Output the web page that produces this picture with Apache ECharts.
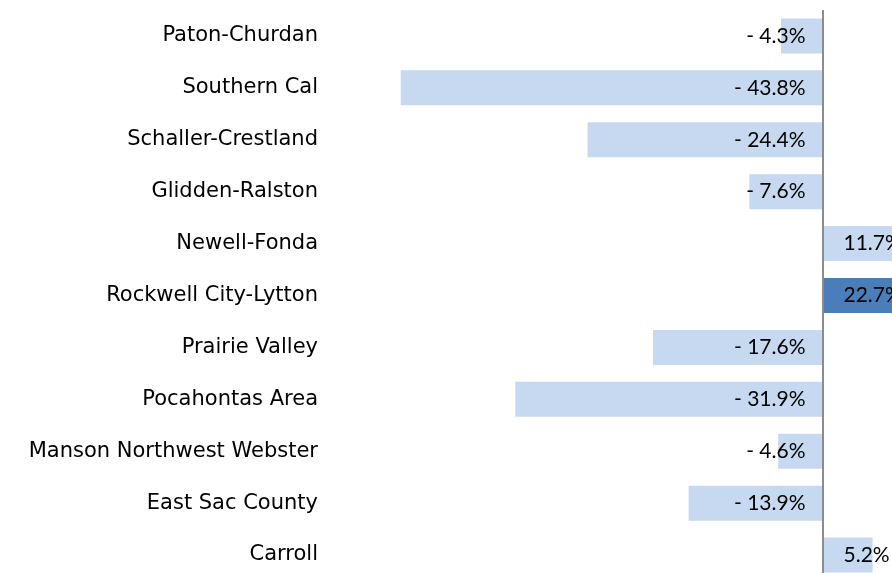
<!DOCTYPE html>
<html><head><meta charset="utf-8">
<script src="https://cdn.jsdelivr.net/npm/echarts@6/dist/echarts.min.js"></script>
<style>html,body{margin:0;padding:0;background:#fff}#c{width:892px;height:573px}</style>
</head><body><div id="c"></div>
<script>
const categories = ["Paton-Churdan","Southern Cal","Schaller-Crestland","Glidden-Ralston","Newell-Fonda","Rockwell City-Lytton","Prairie Valley","Pocahontas Area","Manson Northwest Webster","East Sac County","Carroll"];
const values = [-4.3,-43.8,-24.4,-7.6,11.7,22.7,-17.6,-31.9,-4.6,-13.9,5.2];
const highlight = "Rockwell City-Lytton";

const chart = echarts.init(document.getElementById('c'));
const data = values.map((v, i) => ({
  value: v,
  itemStyle: { color: categories[i] === highlight ? '#4A7EBB' : '#C6D9F0' },
  label: v < 0 ? { position: 'insideRight', distance: 17 } : { position: 'insideLeft', distance: 21 }
}));
chart.setOption({
  animation: false,
  grid: { left: 341, top: 10, width: 770.4, height: 571, containLabel: false, outerBoundsMode: 'none' },
  xAxis: { type: 'value', min: -50, max: 30, show: false },
  yAxis: {
    type: 'category', data: categories, inverse: true,
    axisLine: { show: false, onZero: false }, axisTick: { show: false },
    axisLabel: { color: '#000', fontSize: 21, fontFamily: 'DejaVu Sans', margin: 23 }
  },
  series: [{
    type: 'bar', data: data, barWidth: 35,
    label: {
      show: true, color: '#000', fontSize: 21, fontFamily: 'Lato',
      formatter: p => (p.value < 0 ? '- ' + Math.abs(p.value).toFixed(1) : p.value.toFixed(1)) + '%'
    },
    markLine: {
      silent: true, symbol: 'none', label: { show: false },
      lineStyle: { color: '#8C8C8C', width: 2, type: 'solid' },
      data: [{ xAxis: 0 }]
    }
  }]
});
</script></body></html>
